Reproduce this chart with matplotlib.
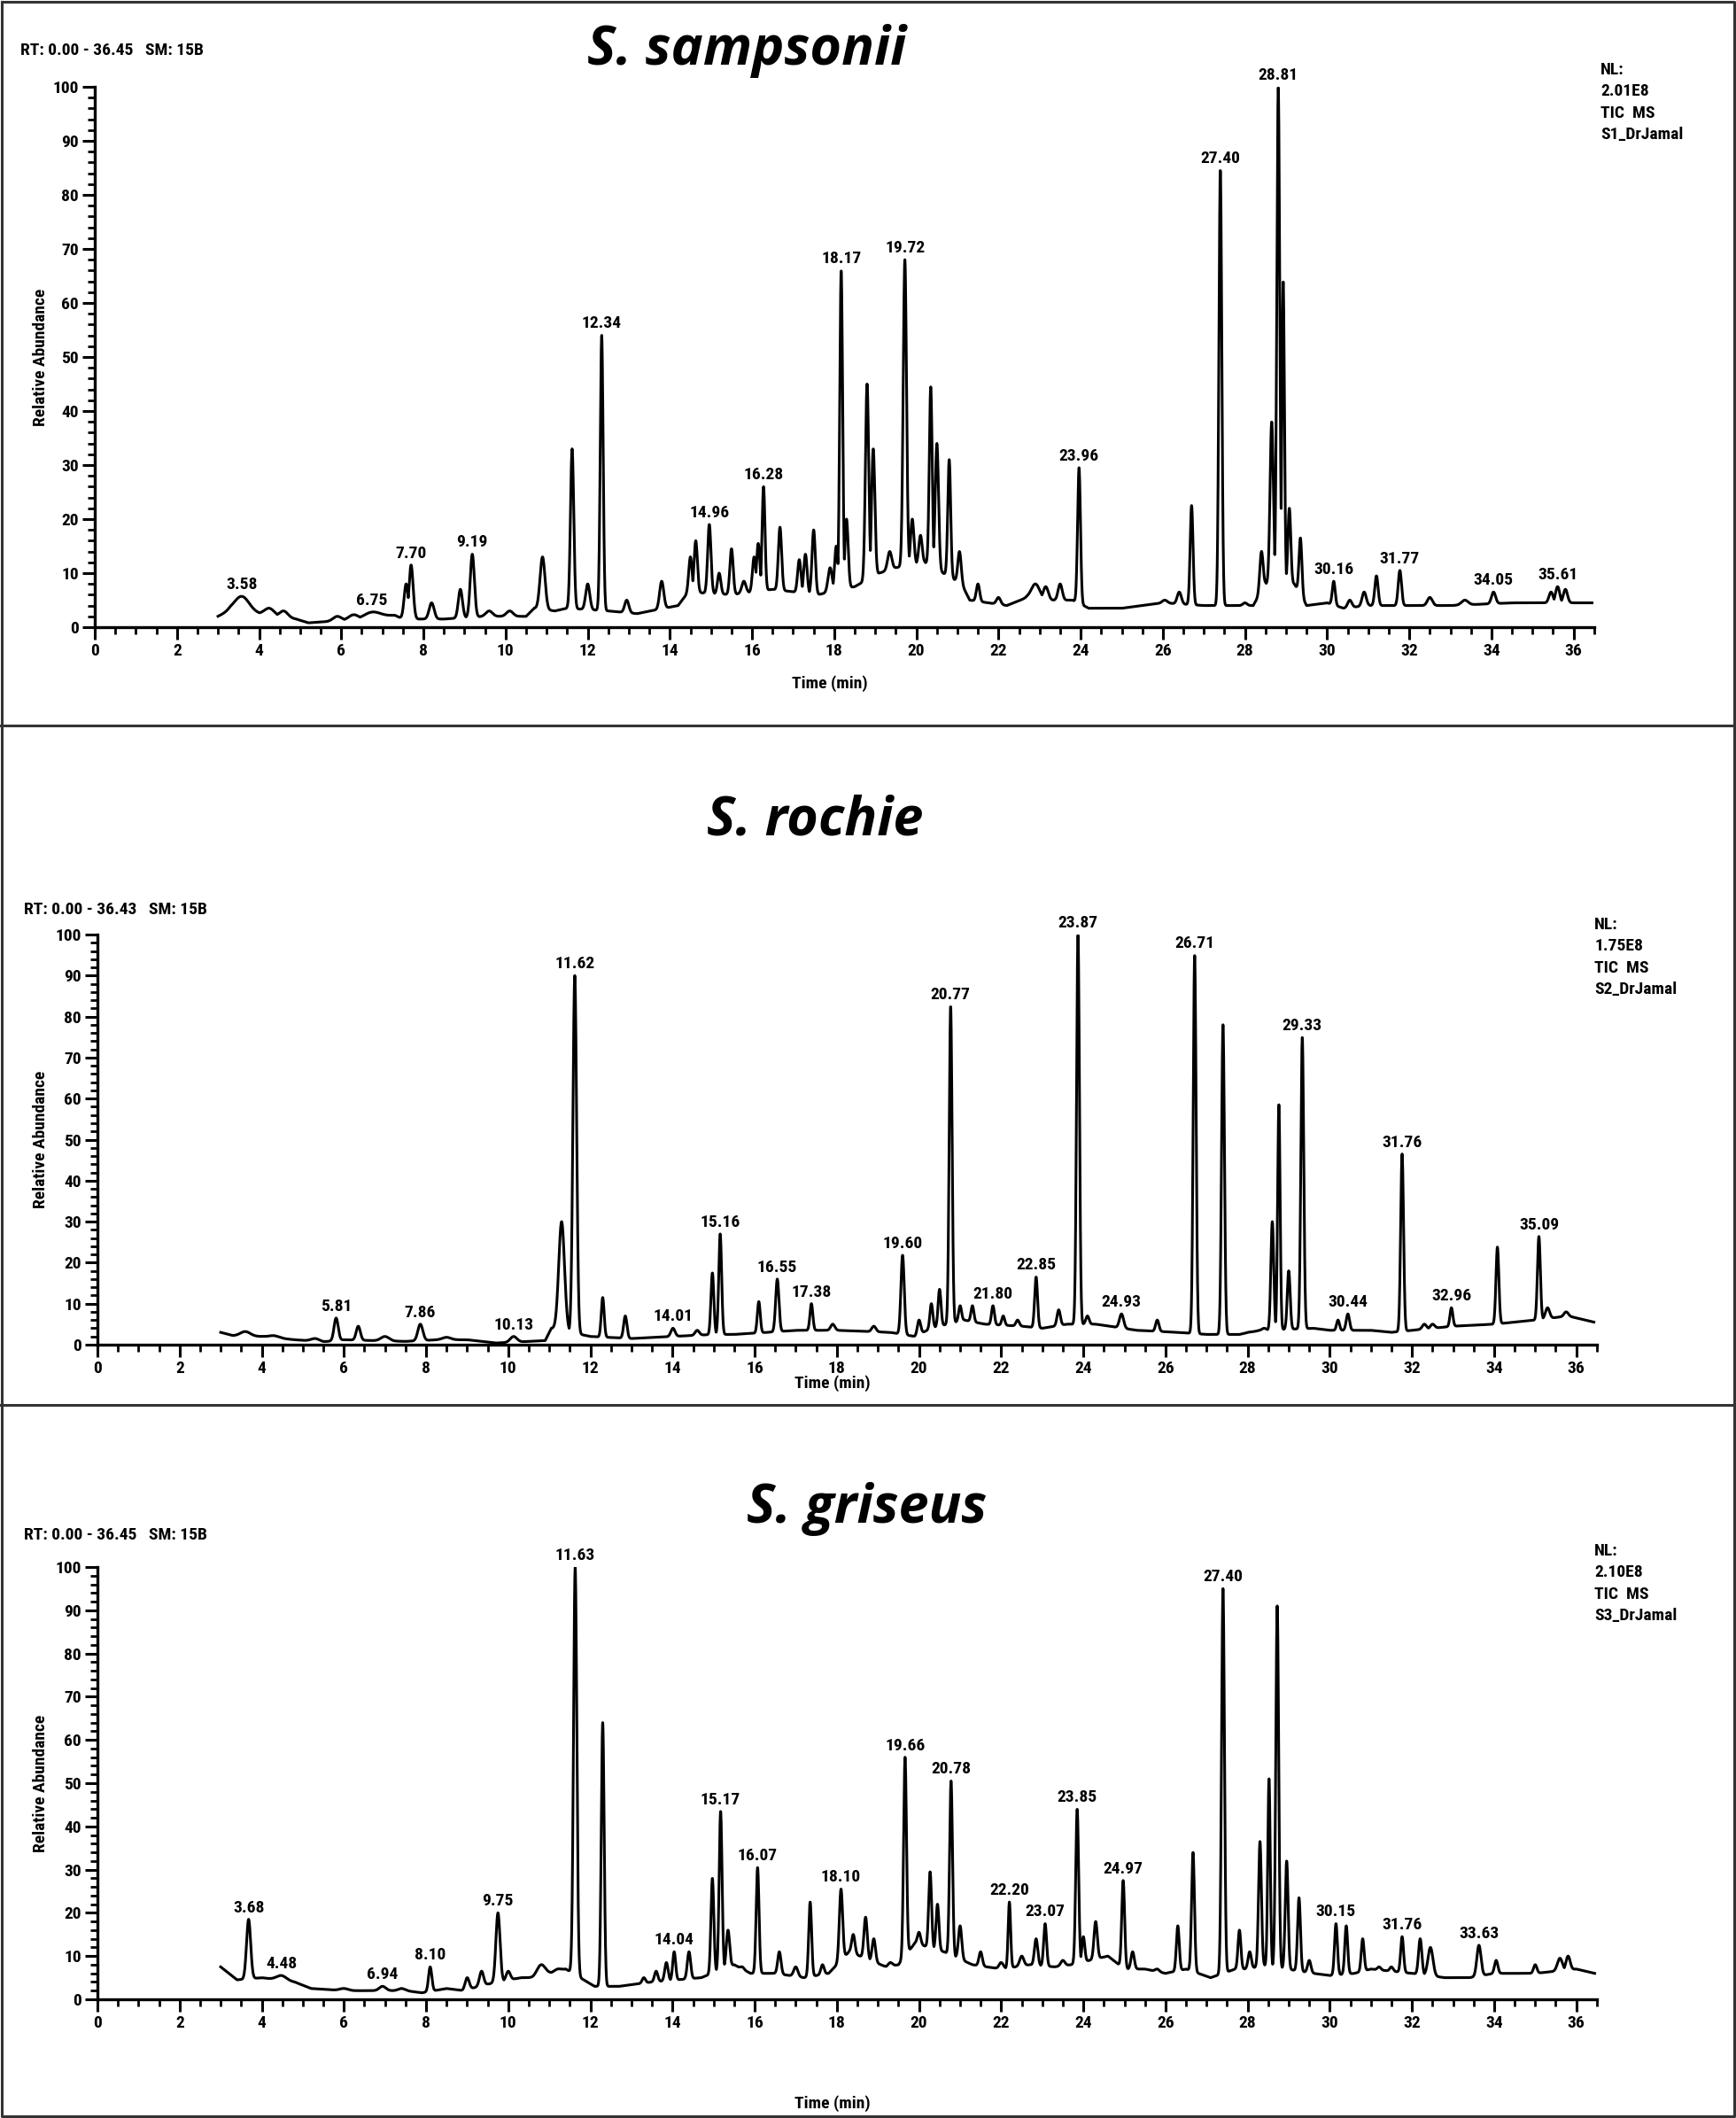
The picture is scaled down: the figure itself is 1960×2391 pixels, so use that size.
import numpy as np
import matplotlib
matplotlib.use("Agg")
import matplotlib.pyplot as plt
from matplotlib import font_manager
from matplotlib.lines import Line2D
from matplotlib.ticker import MultipleLocator

# ---- data (retention time in min, relative abundance %) ----

# S. sampsonii
s1_peak_rt = [3.58, 4.25, 4.6, 5.9, 6.3, 6.75, 7.58, 7.70, 8.2, 8.9, 9.19, 9.6, 10.1,
              10.9, 11.62, 12.0, 12.34, 12.95, 13.8, 14.5, 14.63, 14.96, 15.2, 15.5,
              15.8, 16.05, 16.15, 16.28, 16.68, 17.15, 17.3, 17.5, 17.9, 18.05, 18.17,
              18.3, 18.8, 18.95, 19.35, 19.72, 19.9, 20.1, 20.35, 20.5, 20.8, 21.05,
              21.5, 22.0, 22.9, 23.15, 23.5, 23.96, 26.05, 26.4, 26.7, 27.40, 28.0,
              28.4, 28.65, 28.81, 28.93, 29.08, 29.35, 30.16, 30.55, 30.9, 31.2, 31.77,
              32.5, 33.35, 34.05, 35.45, 35.61, 35.8]
s1_peak_h = [5.7, 3.5, 3.0, 2.0, 2.3, 2.8, 8.0, 11.5, 4.5, 7.0, 13.5, 3.0, 3.0,
             13.0, 33.0, 8.0, 54.0, 5.0, 8.5, 13.0, 16.0, 19.0, 10.0, 14.5,
             8.5, 13.0, 15.5, 26.0, 18.5, 12.5, 13.5, 18.0, 11.0, 15.0, 66.0,
             20.0, 45.0, 33.0, 14.0, 68.0, 20.0, 17.0, 44.5, 34.0, 31.0, 14.0,
             8.0, 5.5, 8.0, 7.5, 8.0, 29.5, 5.0, 6.5, 22.5, 84.5, 4.5,
             14.0, 38.0, 100.0, 64.0, 22.0, 16.5, 8.5, 5.0, 6.5, 9.5, 10.5,
             5.5, 5.0, 6.5, 6.5, 7.5, 7.0]
s1_peak_w = [0.18, 0.12, 0.1, 0.1, 0.12, 0.2, 0.05, 0.05, 0.06, 0.05, 0.05, 0.08, 0.08,
             0.06, 0.04, 0.05, 0.035, 0.05, 0.05, 0.04, 0.04, 0.04, 0.04, 0.04,
             0.05, 0.04, 0.04, 0.035, 0.04, 0.04, 0.04, 0.04, 0.05, 0.04, 0.035,
             0.04, 0.04, 0.04, 0.05, 0.04, 0.04, 0.04, 0.035, 0.04, 0.035, 0.04,
             0.04, 0.05, 0.1, 0.06, 0.05, 0.035, 0.06, 0.05, 0.035, 0.035, 0.05,
             0.04, 0.04, 0.035, 0.03, 0.035, 0.035, 0.035, 0.05, 0.05, 0.04, 0.04,
             0.06, 0.08, 0.05, 0.05, 0.05, 0.05]
s1_base_t = [3.0, 3.3, 4.0, 4.9, 5.2, 5.6, 6.5, 7.3, 7.5, 7.95, 8.5, 9.5, 10.5, 10.7,
             11.2, 11.5, 12.5, 13.2, 14.2, 14.45, 15.5, 16.5, 17.6, 18.5, 19.1, 19.5,
             20.2, 21.1, 21.3, 22.2, 22.7, 23.3, 23.8, 24.2, 25.0, 26.0, 27.0, 27.7,
             28.2, 28.5, 29.2, 29.5, 30.0, 30.4, 31.0, 32.0, 33.0, 34.5, 35.3, 36.45]
s1_base_v = [2.0, 3.0, 2.5, 1.5, 0.8, 1.0, 1.5, 2.2, 1.5, 1.5, 1.5, 2.0, 2.0, 3.5,
             3.0, 3.5, 3.0, 2.5, 4.0, 6.5, 6.0, 7.0, 6.0, 7.5, 10.0, 11.0,
             12.0, 8.0, 5.0, 4.0, 5.5, 5.0, 5.0, 3.5, 3.5, 4.5, 4.0, 4.0,
             4.0, 8.0, 8.0, 4.0, 4.5, 3.5, 4.0, 4.0, 4.0, 4.5, 4.5, 4.5]
s1_labels = [3.58, 6.75, 7.70, 9.19, 12.34, 14.96, 16.28, 18.17, 19.72, 23.96,
             27.40, 28.81, 30.16, 31.77, 34.05, 35.61]

# S. rochie
s2_peak_rt = [3.6, 4.3, 5.3, 5.81, 6.35, 7.0, 7.86, 8.5, 10.13, 11.3, 11.62, 12.3,
              12.85, 14.01, 14.6, 14.97, 15.16, 16.1, 16.55, 17.38, 17.9, 18.9, 19.60,
              20.0, 20.3, 20.5, 20.77, 21.0, 21.3, 21.80, 22.05, 22.4, 22.85, 23.4,
              23.87, 24.1, 24.93, 25.8, 26.71, 27.40, 28.0, 28.4, 28.6, 28.76, 29.0,
              29.33, 30.2, 30.44, 31.76, 32.3, 32.5, 32.96, 34.08, 35.09, 35.3, 35.75]
s2_peak_h = [3.2, 2.2, 1.5, 6.5, 4.5, 2.0, 5.0, 1.8, 2.0, 30.0, 90.0, 11.5,
             7.0, 4.0, 3.5, 17.5, 27.0, 10.5, 16.0, 10.0, 5.0, 4.5, 21.8,
             6.0, 10.0, 13.5, 82.5, 9.5, 9.5, 9.5, 7.0, 6.0, 16.5, 8.5,
             100.0, 7.0, 7.5, 6.0, 95.0, 78.0, 3.0, 4.0, 30.0, 58.5, 18.0,
             75.0, 6.0, 7.5, 46.5, 5.0, 5.0, 9.0, 23.8, 26.4, 9.0, 8.0]
s2_peak_w = [0.12, 0.12, 0.1, 0.05, 0.05, 0.1, 0.06, 0.1, 0.08, 0.07, 0.045, 0.035,
             0.04, 0.05, 0.05, 0.035, 0.035, 0.035, 0.04, 0.035, 0.05, 0.05, 0.04,
             0.04, 0.035, 0.035, 0.035, 0.035, 0.035, 0.035, 0.035, 0.04, 0.035, 0.04,
             0.035, 0.04, 0.05, 0.04, 0.035, 0.035, 0.05, 0.05, 0.035, 0.03, 0.035,
             0.035, 0.035, 0.04, 0.035, 0.05, 0.05, 0.035, 0.035, 0.035, 0.05, 0.05]
s2_base_t = [3.0, 3.3, 4.0, 4.8, 5.5, 6.0, 6.7, 7.5, 8.3, 9.0, 9.7, 10.5, 10.9, 11.05,
             12.0, 13.0, 14.0, 15.0, 15.5, 16.3, 17.0, 18.0, 19.3, 19.9, 20.3, 21.1,
             21.6, 22.5, 23.0, 23.6, 24.3, 25.3, 26.3, 27.0, 27.8, 28.3, 29.6, 30.0,
             31.0, 31.5, 32.0, 33.0, 34.0, 34.5, 35.0, 35.8, 36.43]
s2_base_v = [3.0, 2.2, 2.0, 1.2, 0.7, 1.2, 1.0, 0.8, 1.2, 1.2, 0.4, 0.8, 1.0, 4.0,
             2.0, 1.5, 2.0, 2.5, 2.5, 3.0, 3.5, 3.5, 3.0, 2.0, 4.0, 6.0,
             5.0, 4.5, 4.0, 5.0, 5.0, 3.5, 3.0, 2.5, 2.5, 3.5, 4.0, 3.5,
             3.5, 3.0, 3.5, 4.5, 5.0, 5.5, 6.0, 7.0, 5.5]
s2_labels = [5.81, 7.86, 10.13, 11.62, 14.01, 15.16, 16.55, 17.38, 19.60, 20.77,
             21.80, 22.85, 23.87, 24.93, 26.71, 29.33, 30.44, 31.76, 32.96, 35.09]

# S. griseus
s3_peak_rt = [3.68, 4.1, 4.48, 5.0, 6.0, 6.94, 7.4, 8.10, 9.0, 9.35, 9.75, 10.0, 10.8,
              11.2, 11.63, 12.30, 13.3, 13.6, 13.85, 14.04, 14.4, 14.97, 15.17, 15.35,
              15.7, 16.07, 16.6, 17.0, 17.35, 17.65, 18.10, 18.4, 18.7, 18.9, 19.3,
              19.66, 20.0, 20.27, 20.45, 20.78, 21.0, 21.5, 22.0, 22.20, 22.5, 22.85,
              23.07, 23.5, 23.85, 24.0, 24.3, 24.97, 25.2, 25.8, 26.3, 26.67, 27.40,
              27.8, 28.05, 28.3, 28.52, 28.72, 28.95, 29.25, 29.5, 30.15, 30.4, 30.8,
              31.2, 31.5, 31.76, 32.2, 32.45, 33.63, 34.05, 35.0, 35.6, 35.8]
s3_peak_h = [18.5, 4.5, 5.5, 3.2, 2.5, 3.0, 2.5, 7.5, 5.0, 6.5, 20.0, 6.5, 8.0,
             7.0, 100.0, 64.0, 5.0, 6.5, 8.5, 11.0, 11.0, 28.0, 43.5, 16.0,
             7.5, 30.5, 11.0, 7.5, 22.5, 8.0, 25.5, 15.0, 19.0, 14.0, 8.5,
             56.0, 15.5, 29.5, 22.0, 50.5, 17.0, 11.0, 8.5, 22.5, 10.0, 14.0,
             17.5, 9.0, 44.0, 14.5, 18.0, 27.5, 11.0, 7.0, 17.0, 34.0, 95.0,
             16.0, 11.0, 36.5, 51.0, 91.0, 32.0, 23.5, 9.0, 17.5, 17.0, 14.0,
             7.5, 7.5, 14.5, 14.0, 12.0, 12.5, 9.0, 8.0, 9.5, 10.0]
s3_peak_w = [0.05, 0.08, 0.12, 0.08, 0.1, 0.08, 0.08, 0.04, 0.05, 0.05, 0.05, 0.05, 0.1,
             0.08, 0.04, 0.035, 0.04, 0.04, 0.04, 0.035, 0.04, 0.035, 0.035, 0.04,
             0.04, 0.035, 0.04, 0.05, 0.035, 0.04, 0.04, 0.04, 0.04, 0.04, 0.05,
             0.035, 0.04, 0.035, 0.035, 0.035, 0.04, 0.04, 0.05, 0.03, 0.05, 0.04,
             0.035, 0.05, 0.035, 0.035, 0.04, 0.035, 0.04, 0.05, 0.035, 0.035, 0.035,
             0.035, 0.04, 0.035, 0.03, 0.035, 0.035, 0.035, 0.04, 0.035, 0.035, 0.035,
             0.04, 0.04, 0.035, 0.04, 0.06, 0.05, 0.04, 0.04, 0.06, 0.05]
s3_base_t = [3.0, 3.4, 4.0, 4.8, 5.2, 6.0, 7.5, 7.9, 8.5, 8.9, 9.5, 10.3, 10.6, 11.0,
             11.4, 12.1, 12.7, 13.5, 14.7, 15.5, 15.9, 16.5, 17.2, 17.8, 18.3, 19.2,
             19.5, 19.9, 20.6, 21.3, 22.0, 22.7, 23.3, 23.7, 24.6, 25.0, 25.5, 26.0,
             26.5, 27.1, 27.7, 28.1, 28.3, 29.6, 30.0, 30.6, 31.0, 32.0, 32.8, 33.4,
             34.0, 35.0, 36.0, 36.45]
s3_base_v = [7.5, 4.5, 5.0, 4.0, 2.5, 2.0, 2.0, 1.5, 2.5, 2.0, 3.5, 5.0, 5.0, 6.0,
             7.0, 3.0, 3.0, 4.0, 5.0, 8.0, 6.0, 6.0, 5.0, 6.0, 11.0, 7.5,
             8.0, 13.0, 11.0, 8.0, 7.0, 8.0, 7.5, 8.0, 10.0, 7.0, 7.0, 6.0,
             7.0, 5.0, 7.0, 7.0, 8.0, 6.0, 5.5, 6.0, 7.0, 6.0, 5.0, 5.0,
             6.0, 6.0, 7.0, 6.0]
s3_labels = [3.68, 4.48, 6.94, 8.10, 9.75, 11.63, 14.04, 15.17, 16.07, 18.10, 19.66,
             20.78, 22.20, 23.07, 23.85, 24.97, 27.40, 30.15, 31.76, 33.63]

titles = ["S. sampsonii", "S. rochie", "S. griseus"]
rt_ranges = ["RT: 0.00 - 36.45   SM: 15B", "RT: 0.00 - 36.43   SM: 15B",
             "RT: 0.00 - 36.45   SM: 15B"]
nl_texts = ["NL:\n2.01E8\nTIC  MS\nS1_DrJamal", "NL:\n1.75E8\nTIC  MS\nS2_DrJamal",
            "NL:\n2.10E8\nTIC  MS\nS3_DrJamal"]
rt_end = [36.45, 36.43, 36.45]

W, H = 1960, 2391


def pick_font(candidates):
    names = {f.name for f in font_manager.fontManager.ttflist}
    for c in candidates:
        if c in names:
            return c
    return "DejaVu Sans"


SMALL_FONT = pick_font(["Liberation Sans Narrow", "Roboto Condensed", "DejaVu Sans"])
TITLE_FONT = pick_font(["Open Sans", "Noto Sans", "DejaVu Sans"])


def chromatogram(t, peak_rt, peak_h, peak_w, base_t, base_v):
    base = np.interp(t, base_t, base_v)
    env = np.zeros_like(t)
    for rt, h, w in zip(peak_rt, peak_h, peak_w):
        amp = h - np.interp(rt, base_t, base_v)
        env = np.maximum(env, amp * np.exp(-0.5 * ((t - rt) / w) ** 2))
    return base + env


def draw_panel(fig, rect, idx, peak_rt, peak_h, peak_w, base_t, base_v, labels,
               xlabel_px, ylabel_px):
    ax = fig.add_axes(rect)
    t = np.arange(3.0, rt_end[idx], 0.004)
    y = chromatogram(t, peak_rt, peak_h, peak_w, base_t, base_v)
    ax.plot(t, y, color="black", lw=2.2)

    for lab in labels:
        i = peak_rt.index(lab)
        ax.annotate(f"{lab:.2f}", xy=(lab, peak_h[i]), xytext=(0, 3),
                    textcoords="offset points", ha="center", va="bottom",
                    fontsize=14, family=SMALL_FONT, fontweight="bold",
                    annotation_clip=False)

    ax.set_xlim(0, 36.5)
    ax.set_ylim(0, 100)
    for s in ["top", "right"]:
        ax.spines[s].set_visible(False)
    for s in ["left", "bottom"]:
        ax.spines[s].set_linewidth(2.4)

    ax.xaxis.set_major_locator(MultipleLocator(2))
    ax.xaxis.set_minor_locator(MultipleLocator(0.5))
    ax.yaxis.set_major_locator(MultipleLocator(10))
    ax.yaxis.set_minor_locator(MultipleLocator(2))
    ax.tick_params(which="major", length=10, width=2.2, labelsize=14, pad=3)
    ax.tick_params(which="minor", length=6, width=2.0)
    for lab in ax.get_xticklabels() + ax.get_yticklabels():
        lab.set_family(SMALL_FONT)
        lab.set_fontweight("bold")

    # label positions in reference pixels, converted to axes coords
    ax_w = rect[2] * W
    ax_h = rect[3] * H
    y0_px = (1 - rect[1]) * H
    x0_px = rect[0] * W
    ax.set_xlabel("Time (min)", fontsize=14, family=SMALL_FONT, fontweight="bold",
                  va="center")
    ax.xaxis.set_label_coords(0.49, -(xlabel_px - y0_px) / ax_h)
    ax.set_ylabel("Relative Abundance", fontsize=14, family=SMALL_FONT,
                  fontweight="bold", va="center")
    ax.yaxis.set_label_coords(-(x0_px - ylabel_px) / ax_w, 0.5)
    return ax


fig = plt.figure(figsize=(W / 100, H / 100), dpi=100)

# axes rects from pixel positions of the reference
panels = [
    (107, 708, 98, s1_peak_rt, s1_peak_h, s1_peak_w, s1_base_t, s1_base_v, s1_labels, 772),
    (110, 1518, 1055, s2_peak_rt, s2_peak_h, s2_peak_w, s2_base_t, s2_base_v, s2_labels, 1562),
    (110, 2257, 1769, s3_peak_rt, s3_peak_h, s3_peak_w, s3_base_t, s3_base_v, s3_labels, 2375),
]
px_per_min = 46.38
for idx, (x0, y0, y100, prt, ph, pw, bt, bv, labs, xl) in enumerate(panels):
    rect = [x0 / W, 1 - y0 / H, 36.5 * px_per_min / W, (y0 - y100) / H]
    draw_panel(fig, rect, idx, prt, ph, pw, bt, bv, labs, xl, 46)

# titles and header texts
title_pos = [(843, 58), (920, 927), (979, 1704)]
rt_pos = [(23, 57), (27, 1027), (27, 1733)]
nl_pos = [(1807, 70), (1800, 1035), (1800, 1742)]
for i in range(3):
    fig.text(title_pos[i][0] / W, 1 - title_pos[i][1] / H, titles[i],
             fontsize=44, family=TITLE_FONT, fontweight="bold", style="italic",
             ha="center", va="center")
    fig.text(rt_pos[i][0] / W, 1 - rt_pos[i][1] / H, rt_ranges[i],
             fontsize=14, family=SMALL_FONT, fontweight="bold",
             ha="left", va="center")
    fig.text(nl_pos[i][0] / W, 1 - nl_pos[i][1] / H, nl_texts[i],
             fontsize=14, family=SMALL_FONT, fontweight="bold",
             ha="left", va="top", linespacing=1.45)

# panel frames
frame_kw = dict(color="#333333", lw=2.2, transform=fig.transFigure)
for yy in [819, 1586]:
    fig.add_artist(Line2D([0, 1], [1 - yy / H, 1 - yy / H], **frame_kw))
fig.add_artist(Line2D([0.001, 0.999, 0.999, 0.001, 0.001],
                      [0.999, 0.999, 0.001, 0.001, 0.999], **frame_kw))

fig.savefig("out.png", dpi=100)
